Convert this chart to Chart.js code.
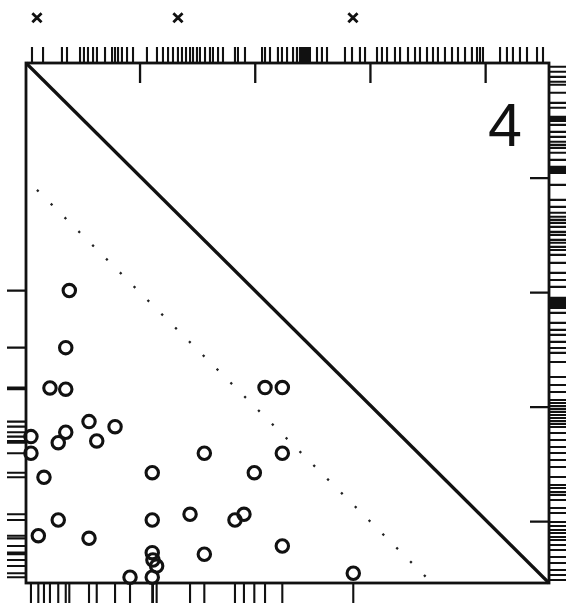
<!DOCTYPE html>
<html>
<head>
<meta charset="utf-8">
<script src="https://cdn.jsdelivr.net/npm/chart.js@4/dist/chart.umd.min.js"></script>
<style>
  html, body { margin: 0; padding: 0; background: #ffffff; }
  #wrap { width: 566px; height: 605px; }
</style>
</head>
<body>
<div id="wrap"><canvas id="c" width="566" height="605"></canvas></div>
<script>
// ---- data ----
const X_RANGE = [0.01, 4.55];
const Y_RANGE = [0.465, 5.005];

const pointX = [0.386, 0.355, 0.218, 0.355, 0.557, 0.783, 0.355, 0.290, 0.624, 0.053, 0.053,
                0.166, 1.106, 1.558, 2.085, 2.235, 2.235, 1.992, 0.290, 0.117, 0.557, 1.106,
                1.434, 1.824, 1.902, 2.235, 1.558, 1.106, 1.112, 1.144, 0.913, 1.106, 2.851];
const pointY = [3.018, 2.520, 2.168, 2.157, 1.874, 1.830, 1.781, 1.690, 1.705, 1.743, 1.598,
                1.388, 1.428, 1.598, 2.171, 2.171, 1.598, 1.428, 1.015, 0.878, 0.855, 1.015,
                1.065, 1.015, 1.065, 0.788, 0.716, 0.730, 0.666, 0.613, 0.515, 0.515, 0.550];

const topRugX = [0.062, 0.158, 0.322, 0.366, 0.479, 0.513, 0.548, 0.592, 0.626, 0.696, 0.757,
                 0.783, 0.809, 0.843, 0.887, 0.939, 1.060, 1.147, 1.199, 1.243, 1.286, 1.329,
                 1.364, 1.399, 1.434, 1.460, 1.494, 1.520, 1.564, 1.607, 1.633, 1.677, 1.720,
                 1.824, 1.850, 1.911, 2.059, 2.085, 2.128, 2.197, 2.232, 2.276, 2.328, 2.362,
                 2.388, 2.406, 2.423, 2.440, 2.458, 2.475, 2.536, 2.579, 2.623, 2.779, 2.840,
                 2.909, 2.953, 3.057, 3.100, 3.144, 3.213, 3.257, 3.326, 3.387, 3.430, 3.491,
                 3.543, 3.586, 3.647, 3.708, 3.760, 3.821, 3.881, 3.925, 3.951, 3.977, 4.125,
                 4.185, 4.237, 4.298, 4.359, 4.446, 4.498];

const rightRugY = [4.972, 4.928, 4.884, 4.841, 4.815, 4.745, 4.657, 4.614, 4.535, 4.518, 4.500,
                   4.465, 4.404, 4.360, 4.317, 4.290, 4.264, 4.221, 4.159, 4.098, 4.081, 4.063,
                   4.046, 3.941, 3.810, 3.749, 3.697, 3.662, 3.635, 3.609, 3.574, 3.531, 3.504,
                   3.461, 3.435, 3.400, 3.373, 3.330, 3.260, 3.173, 3.111, 3.050, 2.954, 2.937,
                   2.919, 2.902, 2.884, 2.867, 2.823, 2.736, 2.675, 2.631, 2.570, 2.517, 2.474,
                   2.395, 2.264, 2.194, 2.133, 2.063, 2.037, 2.011, 1.985, 1.959, 1.932, 1.906,
                   1.880, 1.854, 1.827, 1.775, 1.714, 1.653, 1.600, 1.539, 1.478, 1.391, 1.321,
                   1.295, 1.260, 1.234, 1.190, 1.120, 1.076, 0.998, 0.963, 0.928, 0.902, 0.867,
                   0.841, 0.797, 0.753, 0.692, 0.640, 0.579, 0.535, 0.491];

const topTicks = [1, 2, 3, 4];
const rightTicks = [1, 2, 3, 4];

const crossX = [0.105, 1.329, 2.848];
const crossY = [5.40, 5.40, 5.40];

const diagX = [0.01, 4.55];
const diagY = [5.005, 0.465];

const dotX = [0.105, 3.534];
const dotY = [3.897, 0.465];

const panelLabel = '4';

// ---- build ----
const zip = (xs, ys) => xs.map((v, i) => ({ x: v, y: ys[i] }));
const INK = '#111';

const framePlugin = {
  id: 'frame',
  beforeDatasetsDraw(chart) {
    const { ctx, chartArea: a, scales: { x, y } } = chart;
    ctx.save();
    ctx.strokeStyle = INK;
    ctx.lineWidth = 2.8;
    ctx.strokeRect(a.left, a.top, a.right - a.left, a.bottom - a.top);

    // rugs
    ctx.lineWidth = 2.1;
    ctx.beginPath();
    topRugX.forEach(v => { const p = x.getPixelForValue(v); ctx.moveTo(p, a.top); ctx.lineTo(p, a.top - 16); });
    rightRugY.forEach(v => { const p = y.getPixelForValue(v); ctx.moveTo(a.right, p); ctx.lineTo(a.right + 17, p); });
    pointX.forEach(v => { const p = x.getPixelForValue(v); ctx.moveTo(p, a.bottom); ctx.lineTo(p, a.bottom + 20); });
    pointY.forEach(v => { const p = y.getPixelForValue(v); ctx.moveTo(a.left, p); ctx.lineTo(a.left - 19, p); });
    ctx.stroke();

    // inward ticks
    ctx.lineWidth = 2.3;
    ctx.beginPath();
    topTicks.forEach(v => { const p = x.getPixelForValue(v); ctx.moveTo(p, a.top); ctx.lineTo(p, a.top + 20); });
    rightTicks.forEach(v => { const p = y.getPixelForValue(v); ctx.moveTo(a.right, p); ctx.lineTo(a.right - 19, p); });
    ctx.stroke();

    // panel label
    ctx.fillStyle = INK;
    ctx.font = '61px "Liberation Sans", Arial, sans-serif';
    ctx.textAlign = 'right';
    ctx.textBaseline = 'alphabetic';
    ctx.fillText(panelLabel, a.right - 27, a.top + 83);
    ctx.restore();
  },
  afterDatasetsDraw(chart) {
    // cross markers above the frame (outside the plot area)
    const { ctx, scales: { x, y } } = chart;
    ctx.save();
    ctx.strokeStyle = INK;
    ctx.lineWidth = 2.8;
    ctx.lineCap = 'butt';
    const h = 4.6;
    ctx.beginPath();
    crossX.forEach((v, i) => {
      const px = x.getPixelForValue(v), py = y.getPixelForValue(crossY[i]);
      ctx.moveTo(px - h, py - h); ctx.lineTo(px + h, py + h);
      ctx.moveTo(px - h, py + h); ctx.lineTo(px + h, py - h);
    });
    ctx.stroke();
    ctx.restore();
  }
};

new Chart(document.getElementById('c'), {
  type: 'scatter',
  data: {
    datasets: [
      {
        data: zip(diagX, diagY), showLine: true, borderColor: INK, borderWidth: 3.2,
        pointRadius: 0, clip: false
      },
      {
        data: zip(dotX, dotY), showLine: true, borderColor: '#222', borderWidth: 2.3,
        borderDash: [2.3, 17.2], borderCapStyle: 'butt', pointRadius: 0, clip: false
      },
      {
        data: zip(pointX, pointY), pointStyle: 'circle', pointRadius: 6.2, borderWidth: 3.1,
        borderColor: INK, backgroundColor: 'rgba(0,0,0,0)', clip: false
      }
    ]
  },
  options: {
    responsive: false,
    animation: false,
    events: [],
    layout: { padding: { left: 26, top: 63, right: 17, bottom: 22 } },
    plugins: { legend: { display: false }, tooltip: { enabled: false } },
    scales: {
      x: { type: 'linear', min: X_RANGE[0], max: X_RANGE[1], display: false },
      y: { type: 'linear', min: Y_RANGE[0], max: Y_RANGE[1], display: false }
    }
  },
  plugins: [framePlugin]
});
</script>
</body>
</html>
